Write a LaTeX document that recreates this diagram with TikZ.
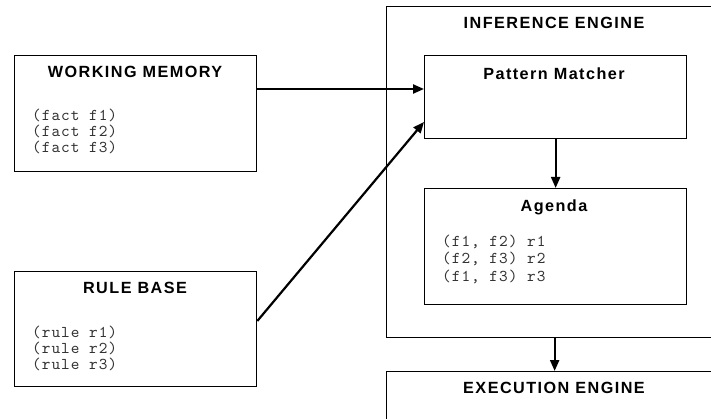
\documentclass[tikz,border=0pt]{standalone}
\usepackage{fontspec}
\setmainfont{Liberation Sans}
\newfontfamily\titlefont[LetterSpace=9]{Liberation Sans}
\newfontfamily\codefont[LetterSpace=6]{lmmono10-regular.otf}
\usetikzlibrary{arrows.meta}
\tikzset{
  box/.style={draw=black, line width=1.3pt, fill=none, inner sep=0pt, anchor=north west},
  ttl/.style={inner sep=0pt, anchor=base, font=\titlefont\bfseries\fontsize{16.2}{18}\selectfont},
  code/.style={inner sep=0pt, anchor=base west, text=black!80, font=\codefont\fontsize{16.5}{16}\selectfont},
  arr/.style={line width=2.2pt, -{Triangle[length=11pt,width=9pt]}}
}
\begin{document}
\begin{tikzpicture}[x=1pt,y=-1pt]
\useasboundingbox (0,0) rectangle (711,419);
\clip (0,0) rectangle (711,419);
\fill[white] (0,0) rectangle (711,419);
% boxes
\node[box, minimum width=242pt, minimum height=116pt] (wm) at (14,55) {};
\node[box, minimum width=242pt, minimum height=115pt] (rb) at (14,271) {};
\node[box, minimum width=336pt, minimum height=331pt] (ie) at (386,6) {};
\node[box, minimum width=262pt, minimum height=83pt] (pm) at (424,55) {};
\node[box, minimum width=262pt, minimum height=116pt] (ag) at (424,188) {};
\node[box, minimum width=336pt, minimum height=80pt] (ex) at (386,371) {};
% titles
\node[ttl] (wmt) at (135,78) {WORKING MEMORY};
\node[ttl] (rbt) at (135,294) {RULE BASE};
\node[ttl] (iet) at (554,29) {INFERENCE ENGINE};
\node[ttl] (pmt) at (554,80) {Pattern Matcher};
\node[ttl] (agt) at (554,211.5) {Agenda};
\node[ttl] (ext) at (554,393) {EXECUTION ENGINE};
% code lines
\node[code] (wm1) at (32,121) {(fact f1)};
\node[code] (wm2) at (32,137) {(fact f2)};
\node[code] (wm3) at (32,153) {(fact f3)};
\node[code] (rb1) at (32,337) {(rule r1)};
\node[code] (rb2) at (32,353) {(rule r2)};
\node[code] (rb3) at (32,369) {(rule r3)};
\node[code] (ag1) at (442,247) {(f1, f2) r1};
\node[code] (ag2) at (442,264) {(f2, f3) r2};
\node[code] (ag3) at (442,281) {(f1, f3) r3};
% connectors
\draw[arr] ([yshift=-34pt]wm.north east) -- ([yshift=-34pt]pm.north west);
\draw[arr] ([yshift=-50pt]rb.north east) -- ([yshift=-67pt]pm.north west);
\draw[arr] (pm.south) -- (ag.north);
\draw[arr] (ie.south) -- (ex.north);
\end{tikzpicture}
\end{document}
